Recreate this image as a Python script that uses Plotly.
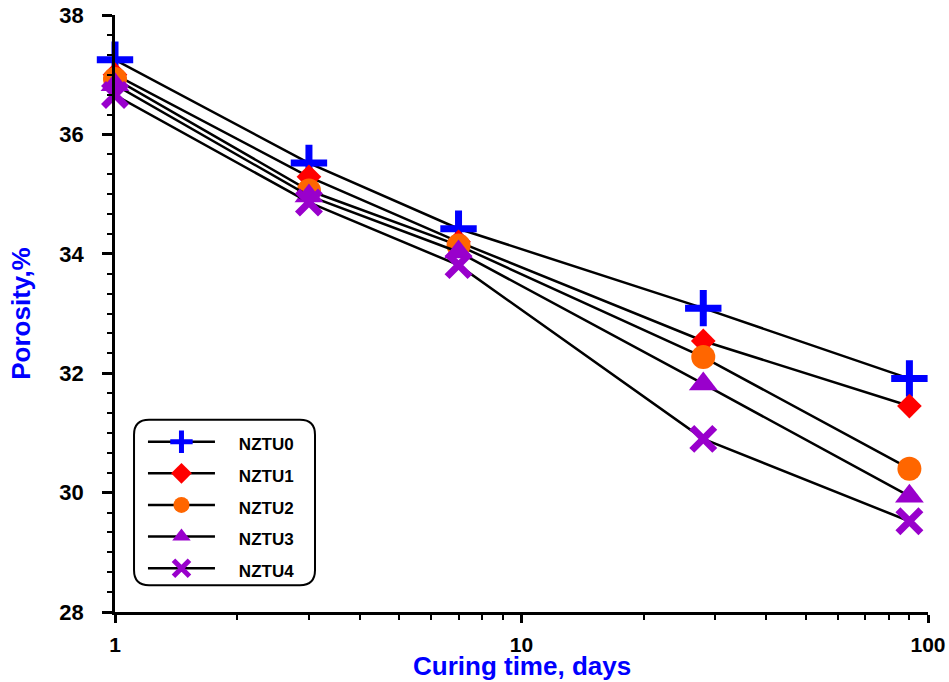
import plotly.graph_objects as go

days = [1, 3, 7, 28, 90]
series_names = ["NZTU0", "NZTU1", "NZTU2", "NZTU3", "NZTU4"]
nztu0 = [37.25, 35.52, 34.42, 33.09, 31.91]
nztu1 = [37.00, 35.29, 34.20, 32.54, 31.45]
nztu2 = [36.93, 35.06, 34.14, 32.27, 30.40]
nztu3 = [36.83, 34.97, 34.03, 31.82, 29.94]
nztu4 = [36.66, 34.86, 33.81, 30.90, 29.52]
values = [nztu0, nztu1, nztu2, nztu3, nztu4]

x_tickvals = [1, 10, 100]
x_ticktext = ["1", "10", "100"]
y_tickvals = [28, 30, 32, 34, 36, 38]
y_ticktext = ["28", "30", "32", "34", "36", "38"]

colors = ["#0000FF", "#FF0000", "#FF6600", "#9900CC", "#9900CC"]
symbols = ["cross-thin-open", "diamond", "circle", "triangle-up", "x-thin-open"]
sizes = [26, 19, 24, 25, 23]

fig = go.Figure()
for name, vals, col, sym, sz in zip(series_names, values, colors, symbols, sizes):
    if sym.endswith("thin-open"):
        marker = dict(symbol=sym, size=sz, color=col, line=dict(color=col, width=7))
    else:
        marker = dict(symbol=sym, size=sz, color=col, line=dict(width=0))
    fig.add_trace(go.Scatter(
        x=days, y=vals, mode="lines+markers", cliponaxis=False,
        name='<span style="font-size:17px">&nbsp;&nbsp;&nbsp;&nbsp;<b>' + name + '</b></span>',
        line=dict(color="black", width=2.5),
        marker=marker,
    ))

font_family = "Liberation Sans, Arial, sans-serif"

# rounded legend frame
rx, ry = 0.0185, 0.025
x0, x1, y0, y1 = 0.0234, 0.246, 0.045, 0.322
path = (f"M{x0+rx},{y0} L{x1-rx},{y0} Q{x1},{y0} {x1},{y0+ry} L{x1},{y1-ry} "
        f"Q{x1},{y1} {x1-rx},{y1} L{x0+rx},{y1} Q{x0},{y1} {x0},{y1-ry} "
        f"L{x0},{y0+ry} Q{x0},{y0} {x0+rx},{y0} Z")

fig.update_layout(
    width=949, height=682,
    margin=dict(l=115, r=21, t=15, b=70, autoexpand=False),
    paper_bgcolor="white", plot_bgcolor="white",
    font=dict(family=font_family, color="black"),
    shapes=[dict(type="path", xref="paper", yref="paper", path=path,
                 line=dict(color="black", width=2), fillcolor="rgba(0,0,0,0)")],
    annotations=[dict(text="<b>Curing time, days</b>", xref="paper", yref="paper",
                      x=0.5, y=-0.1165, xanchor="center", yanchor="bottom", showarrow=False,
                      borderpad=0,
                      font=dict(size=26, color="#0000FF", family=font_family))],
    legend=dict(
        x=0.0344, y=0.320, xanchor="left", yanchor="top",
        bgcolor="rgba(0,0,0,0)", borderwidth=0,
        font=dict(size=22, family=font_family, color="black"),
        itemwidth=67, itemsizing="trace", tracegroupgap=0,
    ),
    xaxis=dict(
        type="log", range=[0, 2], automargin=False,
        tickmode="array", tickvals=x_tickvals,
        ticktext=["<b>" + t + "</b>" for t in x_ticktext],
        showline=True, linecolor="black", linewidth=2.5, mirror=False,
        ticks="outside", ticklen=8, tickwidth=2.5, tickcolor="black",
        ticklabelstandoff=4,
        showgrid=False, zeroline=False,
        tickfont=dict(size=21, family=font_family, color="black", weight="bold"),
        minor=dict(ticks="outside", ticklen=5, tickwidth=2, tickcolor="black", dtick="D1", showgrid=False),
    ),
    yaxis=dict(
        range=[28, 38], automargin=False,
        tickmode="array", tickvals=y_tickvals,
        ticktext=["<b>" + t + "</b>" for t in y_ticktext],
        showline=True, linecolor="black", linewidth=2.5,
        ticks="outside", ticklen=10, tickwidth=2.5, tickcolor="black",
        ticklabelstandoff=14,
        showgrid=False, zeroline=False,
        tickfont=dict(size=22, family=font_family, color="black", weight="bold"),
        minor=dict(ticks="outside", ticklen=5, tickwidth=2, tickcolor="black", dtick=2/6, showgrid=False),
        title=dict(text="<b>Porosity,%</b>", standoff=22,
                   font=dict(size=26, color="#0000FF", family=font_family, weight="bold")),
    ),
)

fig.write_html("out.html")
